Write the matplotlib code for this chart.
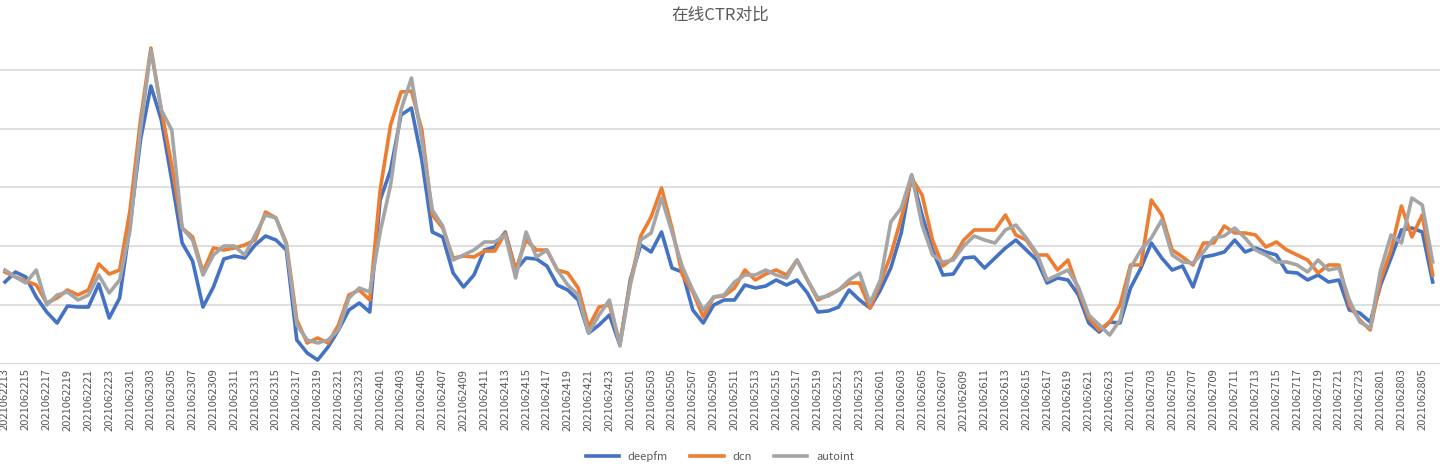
import numpy as np
import matplotlib.pyplot as plt

plt.rcParams['font.family'] = ['Noto Sans CJK SC', 'DejaVu Sans']

# hourly labels 2021062213 .. 2021062806
hours = []
for day, h0, h1 in [(22, 13, 24), (23, 0, 24), (24, 0, 24), (25, 0, 24),
                    (26, 0, 24), (27, 0, 24), (28, 0, 7)]:
    for h in range(h0, h1):
        hours.append("202106%02d%02d" % (day, h))

# relative CTR level (arbitrary units)
deepfm_px = [282, 272, 277, 297, 312, 323, 306, 307, 307, 284, 318, 298, 225, 140, 86, 120, 180, 243, 261, 307,
             287, 259, 256, 258, 245, 236, 240, 250, 340, 353, 360, 347, 330, 310, 303, 312, 200, 170, 115, 108,
             160, 232, 237, 273, 287, 275, 250, 247, 232, 270, 258, 259, 266, 285, 290, 300, 333, 325, 315, 345,
             280, 245, 252, 232, 268, 272, 310, 323, 305, 300, 300, 285, 288, 286, 280, 285, 280, 293, 312, 311,
             307, 290, 300, 308, 290, 268, 233, 175, 215, 250, 275, 274, 258, 257, 268, 258, 248, 240, 250, 260,
             283, 278, 280, 295, 323, 332, 322, 323, 288, 268, 243, 258, 270, 266, 287, 257, 255, 252, 240, 252,
             248, 252, 255, 272, 273, 280, 275, 282, 280, 310, 313, 322, 285, 258, 230, 228, 232, 282]
dcn_px = [272, 277, 281, 285, 303, 298, 290, 295, 290, 264, 274, 270, 210, 120, 48, 110, 165, 228, 237, 272,
          248, 250, 248, 245, 240, 212, 218, 243, 320, 343, 338, 343, 325, 295, 290, 300, 190, 125, 92, 91,
          130, 215, 228, 258, 256, 257, 251, 251, 233, 270, 240, 250, 250, 270, 273, 288, 327, 307, 305, 343,
          283, 236, 217, 188, 228, 275, 292, 317, 297, 296, 288, 270, 280, 274, 270, 275, 260, 280, 300, 295,
          290, 283, 283, 308, 283, 255, 218, 178, 195, 240, 266, 258, 240, 230, 230, 230, 215, 235, 240, 255,
          255, 270, 260, 290, 318, 330, 322, 305, 265, 265, 200, 215, 250, 257, 265, 243, 243, 226, 233, 233,
          235, 247, 242, 250, 255, 260, 273, 265, 265, 305, 320, 330, 280, 250, 206, 237, 215, 275]
autoint_px = [270, 277, 283, 270, 305, 295, 292, 300, 295, 275, 293, 280, 230, 130, 50, 110, 130, 228, 240, 275,
              255, 246, 246, 255, 235, 215, 218, 245, 325, 340, 343, 340, 330, 298, 288, 292, 232, 185, 110, 78,
              140, 210, 226, 260, 255, 250, 242, 242, 235, 278, 232, 257, 250, 270, 285, 295, 333, 315, 300, 346,
              285, 240, 233, 198, 232, 267, 290, 310, 297, 295, 282, 275, 275, 270, 275, 278, 260, 280, 298, 296,
              290, 280, 273, 303, 280, 222, 208, 175, 225, 255, 262, 260, 246, 236, 240, 243, 230, 225, 238, 253,
              280, 275, 270, 287, 315, 325, 335, 320, 268, 250, 238, 220, 255, 262, 263, 252, 238, 236, 228, 238,
              250, 255, 262, 262, 265, 272, 260, 270, 268, 300, 322, 328, 270, 235, 243, 198, 205, 262]

deepfm = [363 - v for v in deepfm_px]
dcn = [363 - v for v in dcn_px]
autoint = [363 - v for v in autoint_px]

fig = plt.figure(figsize=(14.4, 4.67), dpi=100)
ax = fig.add_axes([0, 1 - 363 / 467, 1, 333 / 467])
x = np.arange(len(hours))
ax.plot(x, deepfm, color="#4472c4", lw=2.6, label="deepfm")
ax.plot(x, dcn, color="#ed7d31", lw=2.6, label="dcn")
ax.plot(x, autoint, color="#a5a5a5", lw=2.6, label="autoint")

ax.set_xlim(-0.48, 137.7)
ax.set_ylim(0, 333)
ax.set_yticks([58.5 * k for k in range(1, 6)])
ax.yaxis.grid(True, color="#d9d9d9", lw=1.2)
ax.set_axisbelow(True)
ax.tick_params(axis="y", left=False, labelleft=False)
ax.set_xticks(x[::2])
ax.set_xticklabels(hours[::2], rotation=90, fontsize=8, color="#595959")
ax.tick_params(axis="x", length=0, pad=4)
for s in ["top", "right", "left"]:
    ax.spines[s].set_visible(False)
ax.spines["bottom"].set_color("#d9d9d9")

fig.suptitle("在线CTR对比", y=0.985, fontsize=12, color="#595959")
fig.legend(loc="lower center", ncol=3, frameon=False, fontsize=8, bbox_to_anchor=(0.5, -0.01),
           handlelength=3, labelcolor="#595959")
plt.savefig("out.png")
